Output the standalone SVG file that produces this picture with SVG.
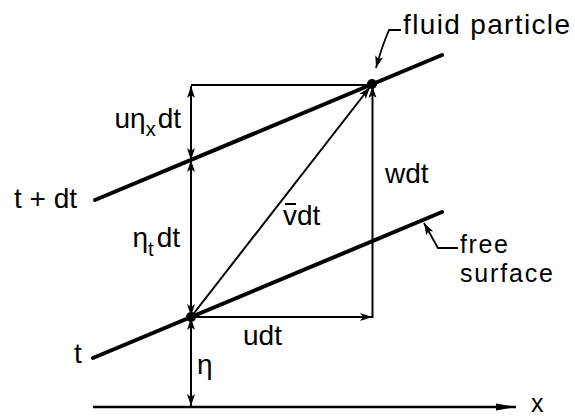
<svg xmlns="http://www.w3.org/2000/svg" width="575" height="416" viewBox="0 0 575 416">
<style>
text{font-family:"Liberation Sans",Arial,sans-serif;font-size:28px;fill:#000}
.sub{font-size:20px}
.small{font-size:25px}
.thin{stroke:#000;stroke-width:2;fill:none}
.thick{stroke:#000;stroke-width:4;fill:none;stroke-linecap:round}
.axis{stroke:#000;stroke-width:2.5;fill:none}
.lead{stroke:#000;stroke-width:1.8;fill:none}
</style>
<defs>
<marker id="ah" markerUnits="userSpaceOnUse" markerWidth="14" markerHeight="10" refX="12" refY="4" orient="auto-start-reverse" viewBox="0 0 14 8">
<path d="M0,0 L12,4 L0,8 L3,4 z" fill="#000"/>
</marker>
<marker id="ax" markerUnits="userSpaceOnUse" markerWidth="22" markerHeight="10" refX="20" refY="4" orient="auto" viewBox="0 0 22 8">
<path d="M0,0.5 L20,4 L0,7.5 z" fill="#000"/>
</marker>
</defs>
<g id="surfaces">
<line id="surface-t-dt" class="thick" x1="95" y1="200" x2="442" y2="55"/>
<line id="surface-t" class="thick" x1="93" y1="358" x2="442" y2="212"/>
</g>
<g id="connectors">
<line class="thin" x1="191" y1="85" x2="372" y2="85"/>
<line class="thin" x1="191" y1="86" x2="191" y2="160" marker-start="url(#ah)" marker-end="url(#ah)"/>
<line class="thin" x1="191" y1="160" x2="191" y2="316" marker-start="url(#ah)" marker-end="url(#ah)"/>
<line class="thin" x1="191" y1="318" x2="191" y2="406" marker-start="url(#ah)" marker-end="url(#ah)"/>
<line class="thin" x1="372.5" y1="318" x2="372.5" y2="86" marker-end="url(#ah)"/>
<line class="thin" x1="191" y1="317" x2="372" y2="317" marker-end="url(#ah)"/>
<line class="thin" x1="191" y1="317" x2="370" y2="87" marker-end="url(#ah)"/>
<line class="axis" x1="93" y1="407" x2="516" y2="407" marker-end="url(#ax)"/>
<path class="lead" d="M401,30 L389,30 Q382,46 376,68" marker-end="url(#ah)"/>
<path class="lead" d="M458,248 L438,248 L424,223" marker-end="url(#ah)"/>
</g>
<g id="particle-upper"><circle cx="372" cy="84" r="5" fill="#000"/></g>
<g id="particle-lower"><circle cx="191" cy="317" r="5" fill="#000"/></g>
<g id="labels">
<text x="14" y="208">t + dt</text>
<text x="74" y="363">t</text>
<text x="181" y="128" text-anchor="end">u<tspan>η</tspan><tspan class="sub" dy="8">x</tspan><tspan dy="-8" dx="2">dt</tspan></text>
<text x="180" y="247" text-anchor="end">η<tspan class="sub" dy="9">t</tspan><tspan dy="-9" dx="3">dt</tspan></text>
<text x="197" y="374">η</text>
<text x="243" y="345">udt</text>
<text x="283" y="225">v<tspan>dt</tspan></text>
<line x1="285" y1="204" x2="296" y2="204" stroke="#000" stroke-width="2"/>
<text x="385" y="183">wdt</text>
<text x="403" y="34" textLength="167" lengthAdjust="spacing">fluid particle</text>
<text class="small" x="460" y="253" textLength="48" lengthAdjust="spacing">free</text>
<text class="small" x="460" y="282" textLength="93" lengthAdjust="spacing">surface</text>
<text class="small" x="531" y="412">x</text>
</g>
</svg>
